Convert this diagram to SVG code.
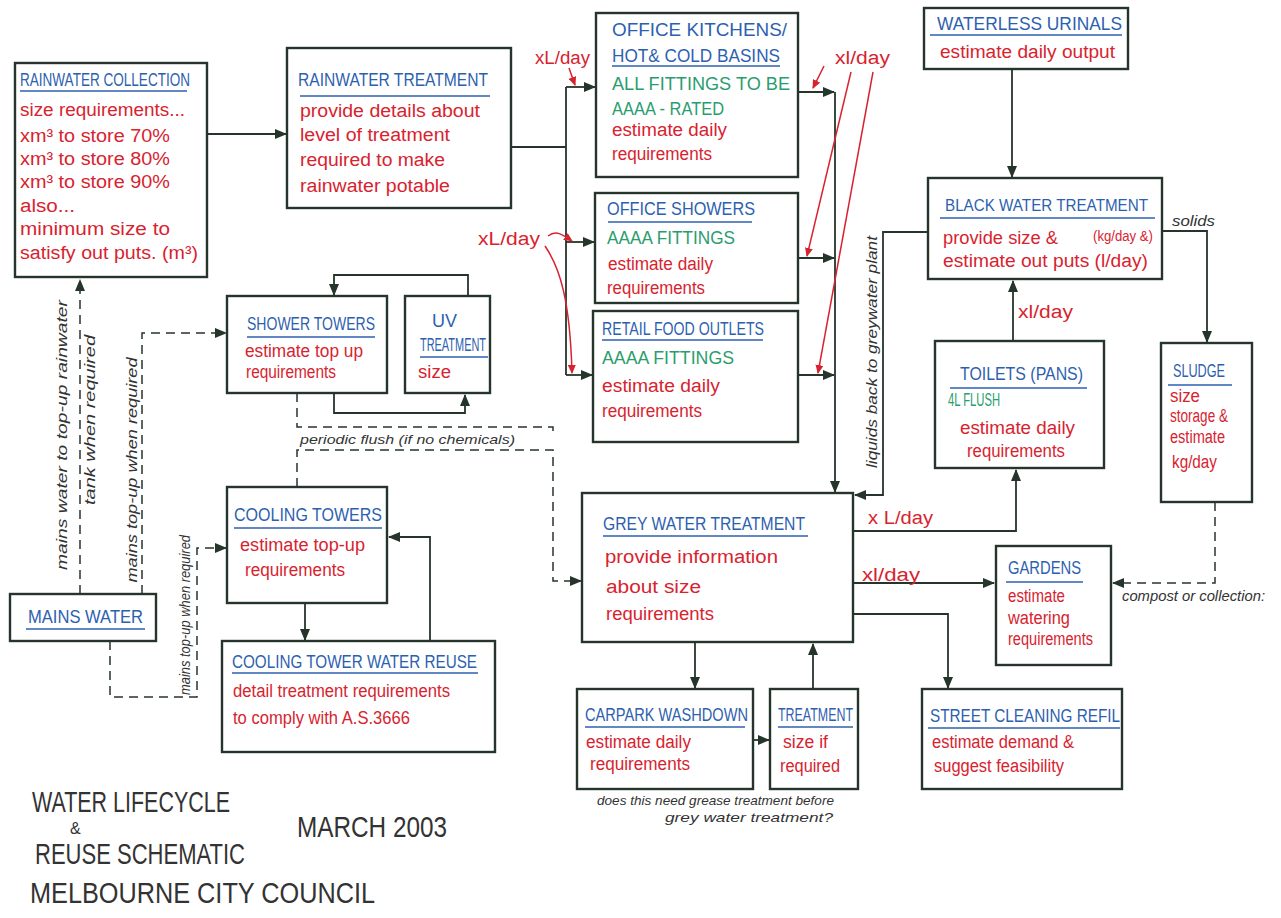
<svg xmlns="http://www.w3.org/2000/svg" width="1281" height="918" viewBox="0 0 1281 918">
<defs>
<marker id="ah" markerUnits="userSpaceOnUse" markerWidth="12" markerHeight="10" refX="11" refY="5" orient="auto"><path d="M0,0 L12,5 L0,10 z" fill="#25352b"/></marker>
<marker id="rh" markerUnits="userSpaceOnUse" markerWidth="9" markerHeight="8" refX="8" refY="4" orient="auto"><path d="M0,0 L9,4 L0,8 z" fill="#d8232f"/></marker>
<style>
.box{fill:#fff;stroke:#25352b;stroke-width:2.4}
.ln{fill:none;stroke:#25352b;stroke-width:1.8}
.dl{fill:none;stroke:#25352b;stroke-width:1.5;stroke-dasharray:9 6}
.rl{fill:none;stroke:#d8232f;stroke-width:1.5}
.ul{stroke:#2d5fb0;stroke-width:1.6}
text{font-family:"Liberation Sans Narrow","Liberation Sans",Arial,sans-serif}
.b{fill:#2d5fb0;font-size:18px}
.r{fill:#d8232f;font-size:18px}
.g{fill:#2a9d6e;font-size:18px}
.k{fill:#333;font-size:14px;font-style:italic}
.tt{fill:#333;font-size:30px}
</style>
</defs>
<rect width="1281" height="918" fill="#fff"/>

<g id="connectors">
<path class="ln" d="M207,134 H286" marker-end="url(#ah)"/>
<path class="ln" d="M511,147 H566 M566,87 V375"/>
<path class="ln" d="M566,87 H595" marker-end="url(#ah)"/>
<path class="ln" d="M566,242 H594" marker-end="url(#ah)"/>
<path class="ln" d="M566,375 H592" marker-end="url(#ah)"/>
<path class="ln" d="M798,92 H834" marker-end="url(#ah)"/>
<path class="ln" d="M798,258 H834" marker-end="url(#ah)"/>
<path class="ln" d="M798,375 H834" marker-end="url(#ah)"/>
<path class="ln" d="M835,92 V492" marker-end="url(#ah)"/>
<path class="ln" d="M928,232 H883 V495 H855" marker-end="url(#ah)"/>
<path class="ln" d="M1012,69 V177" marker-end="url(#ah)"/>
<path class="ln" d="M1162,231 H1207 V342" marker-end="url(#ah)"/>
<path class="ln" d="M1013,341 V281" marker-end="url(#ah)"/>
<path class="ln" d="M853,531 H1016 V470" marker-end="url(#ah)"/>
<path class="ln" d="M853,583 H994" marker-end="url(#ah)"/>
<path class="ln" d="M853,614 H948 V688" marker-end="url(#ah)"/>
<path class="ln" d="M695,642 V688" marker-end="url(#ah)"/>
<path class="ln" d="M813,689 V644" marker-end="url(#ah)"/>
<path class="ln" d="M753,740 H769" marker-end="url(#ah)"/>
<path class="ln" d="M468,296 V275 H334 V295" marker-end="url(#ah)"/>
<path class="ln" d="M334,393 V413 H465 V395" marker-end="url(#ah)"/>
<path class="ln" d="M305,603 V640" marker-end="url(#ah)"/>
<path class="ln" d="M430,641 V537 H389" marker-end="url(#ah)"/>
<path class="dl" d="M80,594 V280" marker-end="url(#ah)"/>
<path class="dl" d="M142,594 V333 H226" marker-end="url(#ah)"/>
<path class="dl" d="M110,641 V697 H197 V548 H226" marker-end="url(#ah)"/>
<path class="dl" d="M297,393 V427 H553 V437"/>
<path class="dl" d="M297,487 V450 H553 V581 H581" marker-end="url(#ah)"/>
<path class="dl" d="M1215,502 V583 H1113" marker-end="url(#ah)"/>
<path class="rl" d="M569,68 L575,85" marker-end="url(#rh)"/>
<path class="rl" d="M824,66 L813,88" marker-end="url(#rh)"/>
<path class="rl" d="M851,72 L807,256" marker-end="url(#rh)"/>
<path class="rl" d="M873,72 L818,373" marker-end="url(#rh)"/>
<path class="rl" d="M548,236 C556,230 562,234 572,241" marker-end="url(#rh)"/>
<path class="rl" d="M545,246 C560,268 570,300 572,373" marker-end="url(#rh)"/>
</g>

<g id="rainwater-collection">
<rect class="box" x="15" y="63" width="192" height="214"/>
<text class="b" x="20" y="86" textLength="170" lengthAdjust="spacingAndGlyphs">RAINWATER COLLECTION</text>
<line class="ul" x1="20" y1="91" x2="187" y2="91"/>
<text class="r" x="20" y="116" textLength="165" lengthAdjust="spacingAndGlyphs">size requirements...</text>
<text class="r" x="20" y="142" textLength="150" lengthAdjust="spacingAndGlyphs">xm³ to store 70%</text>
<text class="r" x="20" y="165" textLength="150" lengthAdjust="spacingAndGlyphs">xm³ to store 80%</text>
<text class="r" x="20" y="188" textLength="150" lengthAdjust="spacingAndGlyphs">xm³ to store 90%</text>
<text class="r" x="20" y="212" textLength="55" lengthAdjust="spacingAndGlyphs">also...</text>
<text class="r" x="20" y="235" textLength="150" lengthAdjust="spacingAndGlyphs">minimum size to</text>
<text class="r" x="20" y="259" textLength="178" lengthAdjust="spacingAndGlyphs">satisfy out puts. (m³)</text>
</g>

<g id="rainwater-treatment">
<rect class="box" x="287" y="48" width="224" height="160"/>
<text class="b" x="298" y="86" textLength="190" lengthAdjust="spacingAndGlyphs">RAINWATER TREATMENT</text>
<line class="ul" x1="300" y1="96" x2="490" y2="96"/>
<text class="r" x="300" y="117" textLength="180" lengthAdjust="spacingAndGlyphs">provide details about</text>
<text class="r" x="300" y="141" textLength="150" lengthAdjust="spacingAndGlyphs">level of treatment</text>
<text class="r" x="300" y="166" textLength="145" lengthAdjust="spacingAndGlyphs">required to make</text>
<text class="r" x="300" y="192" textLength="150" lengthAdjust="spacingAndGlyphs">rainwater potable</text>
</g>

<g id="office-kitchens">
<rect class="box" x="596" y="13" width="202" height="164"/>
<text class="b" x="612" y="36" textLength="175" lengthAdjust="spacingAndGlyphs">OFFICE KITCHENS/</text>
<text class="b" x="612" y="62" textLength="168" lengthAdjust="spacingAndGlyphs">HOT&amp; COLD BASINS</text>
<line class="ul" x1="612" y1="66" x2="780" y2="66"/>
<text class="g" x="612" y="90" textLength="178" lengthAdjust="spacingAndGlyphs">ALL FITTINGS TO BE</text>
<text class="g" x="612" y="115" textLength="112" lengthAdjust="spacingAndGlyphs">AAAA - RATED</text>
<text class="r" x="612" y="136" textLength="115" lengthAdjust="spacingAndGlyphs">estimate daily</text>
<text class="r" x="612" y="160" textLength="100" lengthAdjust="spacingAndGlyphs">requirements</text>
</g>

<g id="office-showers">
<rect class="box" x="595" y="193" width="203" height="110"/>
<text class="b" x="607" y="215" textLength="148" lengthAdjust="spacingAndGlyphs">OFFICE SHOWERS</text>
<line class="ul" x1="608" y1="222" x2="752" y2="222"/>
<text class="g" x="607" y="244" textLength="128" lengthAdjust="spacingAndGlyphs">AAAA FITTINGS</text>
<text class="r" x="608" y="270" textLength="105" lengthAdjust="spacingAndGlyphs">estimate daily</text>
<text class="r" x="607" y="294" textLength="98" lengthAdjust="spacingAndGlyphs">requirements</text>
</g>

<g id="retail-food">
<rect class="box" x="593" y="311" width="205" height="131"/>
<text class="b" x="602" y="335" textLength="162" lengthAdjust="spacingAndGlyphs">RETAIL FOOD OUTLETS</text>
<line class="ul" x1="602" y1="340" x2="763" y2="340"/>
<text class="g" x="602" y="364" textLength="132" lengthAdjust="spacingAndGlyphs">AAAA FITTINGS</text>
<text class="r" x="602" y="392" textLength="118" lengthAdjust="spacingAndGlyphs">estimate daily</text>
<text class="r" x="602" y="417" textLength="100" lengthAdjust="spacingAndGlyphs">requirements</text>
</g>

<g id="waterless-urinals">
<rect class="box" x="924" y="8" width="204" height="61"/>
<text class="b" x="937" y="30" textLength="185" lengthAdjust="spacingAndGlyphs">WATERLESS URINALS</text>
<line class="ul" x1="930" y1="35" x2="1122" y2="35"/>
<text class="r" x="940" y="58" textLength="175" lengthAdjust="spacingAndGlyphs">estimate daily output</text>
</g>

<g id="black-water">
<rect class="box" x="928" y="178" width="234" height="101"/>
<text class="b" x="945" y="211" style="font-size:17px" textLength="203" lengthAdjust="spacingAndGlyphs">BLACK WATER TREATMENT</text>
<line class="ul" x1="940" y1="218" x2="1155" y2="218"/>
<text class="r" x="943" y="244" textLength="115" lengthAdjust="spacingAndGlyphs">provide size &amp;</text>
<text class="r" x="1093" y="241" style="font-size:14px" textLength="60" lengthAdjust="spacingAndGlyphs">(kg/day &amp;)</text>
<text class="r" x="943" y="267" textLength="205" lengthAdjust="spacingAndGlyphs">estimate out puts (l/day)</text>
</g>

<g id="toilets">
<rect class="box" x="935" y="341" width="169" height="127"/>
<text class="b" x="960" y="380" textLength="123" lengthAdjust="spacingAndGlyphs">TOILETS (PANS)</text>
<line class="ul" x1="950" y1="388" x2="1087" y2="388"/>
<text class="g" x="948" y="406" textLength="52" lengthAdjust="spacingAndGlyphs">4L FLUSH</text>
<text class="r" x="960" y="434" textLength="115" lengthAdjust="spacingAndGlyphs">estimate daily</text>
<text class="r" x="967" y="457" textLength="98" lengthAdjust="spacingAndGlyphs">requirements</text>
</g>

<g id="sludge">
<rect class="box" x="1161" y="343" width="91" height="159"/>
<text class="b" x="1173" y="377" textLength="52" lengthAdjust="spacingAndGlyphs">SLUDGE</text>
<line class="ul" x1="1168" y1="385" x2="1232" y2="385"/>
<text class="r" x="1170" y="402" textLength="30" lengthAdjust="spacingAndGlyphs">size</text>
<text class="r" x="1170" y="422" textLength="58" lengthAdjust="spacingAndGlyphs">storage &amp;</text>
<text class="r" x="1170" y="443" textLength="55" lengthAdjust="spacingAndGlyphs">estimate</text>
<text class="r" x="1172" y="468" textLength="45" lengthAdjust="spacingAndGlyphs">kg/day</text>
</g>

<g id="gardens">
<rect class="box" x="996" y="546" width="115" height="119"/>
<text class="b" x="1008" y="574" textLength="73" lengthAdjust="spacingAndGlyphs">GARDENS</text>
<line class="ul" x1="1006" y1="582" x2="1083" y2="582"/>
<text class="r" x="1008" y="602" textLength="57" lengthAdjust="spacingAndGlyphs">estimate</text>
<text class="r" x="1008" y="624" textLength="62" lengthAdjust="spacingAndGlyphs">watering</text>
<text class="r" x="1008" y="645" textLength="85" lengthAdjust="spacingAndGlyphs">requirements</text>
</g>

<g id="grey-water">
<rect class="box" x="582" y="493" width="271" height="149"/>
<text class="b" x="603" y="530" textLength="202" lengthAdjust="spacingAndGlyphs">GREY WATER TREATMENT</text>
<line class="ul" x1="603" y1="536" x2="808" y2="536"/>
<text class="r" x="605" y="563" textLength="173" lengthAdjust="spacingAndGlyphs">provide information</text>
<text class="r" x="606" y="593" textLength="95" lengthAdjust="spacingAndGlyphs">about size</text>
<text class="r" x="606" y="620" textLength="108" lengthAdjust="spacingAndGlyphs">requirements</text>
</g>

<g id="carpark">
<rect class="box" x="577" y="689" width="176" height="100"/>
<text class="b" x="585" y="721" textLength="163" lengthAdjust="spacingAndGlyphs">CARPARK WASHDOWN</text>
<line class="ul" x1="585" y1="727" x2="745" y2="727"/>
<text class="r" x="586" y="748" textLength="105" lengthAdjust="spacingAndGlyphs">estimate daily</text>
<text class="r" x="590" y="770" textLength="100" lengthAdjust="spacingAndGlyphs">requirements</text>
</g>

<g id="treatment">
<rect class="box" x="770" y="689" width="88" height="100"/>
<text class="b" x="778" y="721" textLength="75" lengthAdjust="spacingAndGlyphs">TREATMENT</text>
<line class="ul" x1="778" y1="727" x2="853" y2="727"/>
<text class="r" x="783" y="748" textLength="45" lengthAdjust="spacingAndGlyphs">size if</text>
<text class="r" x="780" y="772" textLength="60" lengthAdjust="spacingAndGlyphs">required</text>
</g>

<g id="street-cleaning">
<rect class="box" x="922" y="689" width="200" height="100"/>
<text class="b" x="930" y="722" textLength="190" lengthAdjust="spacingAndGlyphs">STREET CLEANING REFIL</text>
<line class="ul" x1="928" y1="728" x2="1120" y2="728"/>
<text class="r" x="932" y="748" textLength="142" lengthAdjust="spacingAndGlyphs">estimate demand &amp;</text>
<text class="r" x="934" y="772" textLength="130" lengthAdjust="spacingAndGlyphs">suggest feasibility</text>
</g>

<g id="shower-towers">
<rect class="box" x="227" y="296" width="160" height="97"/>
<text class="b" x="247" y="330" textLength="128" lengthAdjust="spacingAndGlyphs">SHOWER TOWERS</text>
<line class="ul" x1="247" y1="337" x2="375" y2="337"/>
<text class="r" x="245" y="357" textLength="118" lengthAdjust="spacingAndGlyphs">estimate top up</text>
<text class="r" x="246" y="378" textLength="90" lengthAdjust="spacingAndGlyphs">requirements</text>
</g>

<g id="uv-treatment">
<rect class="box" x="405" y="296" width="85" height="97"/>
<text class="b" x="432" y="327" textLength="25" lengthAdjust="spacingAndGlyphs">UV</text>
<text class="b" x="420" y="351" textLength="66" lengthAdjust="spacingAndGlyphs">TREATMENT</text>
<line class="ul" x1="420" y1="357" x2="488" y2="357"/>
<text class="r" x="418" y="378" textLength="33" lengthAdjust="spacingAndGlyphs">size</text>
</g>

<g id="cooling-towers">
<rect class="box" x="227" y="487" width="160" height="116"/>
<text class="b" x="234" y="521" textLength="148" lengthAdjust="spacingAndGlyphs">COOLING TOWERS</text>
<line class="ul" x1="234" y1="528" x2="382" y2="528"/>
<text class="r" x="240" y="551" textLength="125" lengthAdjust="spacingAndGlyphs">estimate top-up</text>
<text class="r" x="245" y="576" textLength="100" lengthAdjust="spacingAndGlyphs">requirements</text>
</g>

<g id="cooling-reuse">
<rect class="box" x="222" y="641" width="273" height="111"/>
<text class="b" x="232" y="668" textLength="245" lengthAdjust="spacingAndGlyphs">COOLING TOWER WATER REUSE</text>
<line class="ul" x1="232" y1="673" x2="478" y2="673"/>
<text class="r" x="233" y="697" textLength="217" lengthAdjust="spacingAndGlyphs">detail treatment requirements</text>
<text class="r" x="233" y="724" textLength="177" lengthAdjust="spacingAndGlyphs">to comply with A.S.3666</text>
</g>

<g id="mains-water">
<rect class="box" x="10" y="594" width="146" height="47"/>
<text class="b" x="28" y="623" textLength="115" lengthAdjust="spacingAndGlyphs">MAINS WATER</text>
<line class="ul" x1="26" y1="629" x2="145" y2="629"/>
</g>

<g id="labels">
<text class="r" x="535" y="64" textLength="55" lengthAdjust="spacingAndGlyphs">xL/day</text>
<text class="r" x="835" y="64" textLength="55" lengthAdjust="spacingAndGlyphs">xl/day</text>
<text class="r" x="478" y="245" textLength="62" lengthAdjust="spacingAndGlyphs">xL/day</text>
<text class="r" x="1018" y="318" textLength="55" lengthAdjust="spacingAndGlyphs">xl/day</text>
<text class="r" x="868" y="524" textLength="65" lengthAdjust="spacingAndGlyphs">x L/day</text>
<text class="r" x="862" y="581" textLength="58" lengthAdjust="spacingAndGlyphs">xl/day</text>
<text class="k" x="1172" y="226" textLength="43" lengthAdjust="spacingAndGlyphs">solids</text>
<text class="k" x="1122" y="601" textLength="143" lengthAdjust="spacingAndGlyphs">compost or collection:</text>
<text class="k" x="300" y="444" style="font-size:13px" textLength="215" lengthAdjust="spacingAndGlyphs">periodic flush (if no chemicals)</text>
<text class="k" x="597" y="805" style="font-size:13px" textLength="237" lengthAdjust="spacingAndGlyphs">does this need grease treatment before</text>
<text class="k" x="665" y="822" style="font-size:13px" textLength="168" lengthAdjust="spacingAndGlyphs">grey water treatment?</text>
<text class="k" transform="translate(67,435) rotate(-90)" text-anchor="middle" textLength="270" lengthAdjust="spacingAndGlyphs">mains water to top-up rainwater</text>
<text class="k" transform="translate(95,420) rotate(-90)" text-anchor="middle" textLength="170" lengthAdjust="spacingAndGlyphs">tank when required</text>
<text class="k" transform="translate(137,470) rotate(-90)" text-anchor="middle" textLength="225" lengthAdjust="spacingAndGlyphs">mains top-up when required</text>
<text class="k" transform="translate(190,615) rotate(-90)" text-anchor="middle" textLength="160" lengthAdjust="spacingAndGlyphs">mains top-up when required</text>
<text class="k" transform="translate(877,352) rotate(-90)" text-anchor="middle" textLength="232" lengthAdjust="spacingAndGlyphs">liquids back to greywater plant</text>
</g>

<g id="title">
<text class="tt" x="32" y="812" textLength="198" lengthAdjust="spacingAndGlyphs">WATER LIFECYCLE</text>
<text class="tt" x="70" y="834" style="font-size:16px">&amp;</text>
<text class="tt" x="35" y="864" textLength="210" lengthAdjust="spacingAndGlyphs">REUSE SCHEMATIC</text>
<text class="tt" x="30" y="903" textLength="345" lengthAdjust="spacingAndGlyphs">MELBOURNE CITY COUNCIL</text>
<text class="tt" x="297" y="837" textLength="150" lengthAdjust="spacingAndGlyphs">MARCH 2003</text>
</g>
</svg>
